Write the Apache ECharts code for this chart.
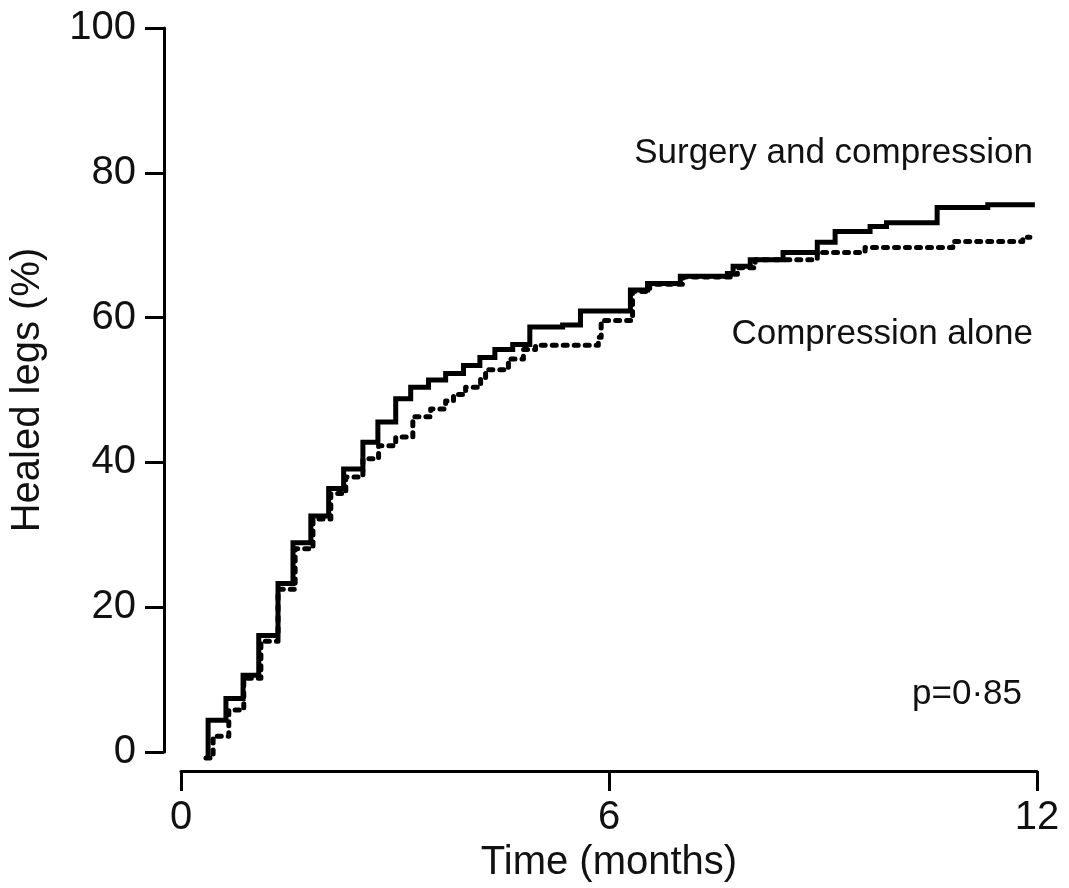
<!DOCTYPE html>
<html>
<head>
<meta charset="utf-8">
<script src="https://cdn.jsdelivr.net/npm/echarts@6/dist/echarts.min.js"></script>
<style>
html,body{margin:0;padding:0;background:#fff;}
#chart{width:1069px;height:888px;}
</style>
</head>
<body>
<div id="chart"></div>
<script>
// Kaplan-Meier style step data: [time (months), healed legs (%)]
var surgeryTimes = [0.38,0.38,0.63,0.87,1.09,1.36,1.57,1.82,2.07,2.28,2.55,2.76,3.01,3.22,3.47,3.71,3.96,4.19,4.40,4.65,4.89,5.35,5.60,6.30,6.54,7.00,7.66,7.74,7.98,8.44,8.92,9.17,9.66,9.89,10.60,11.31,11.97];
var surgeryValues = [-0.8,4.4,7.4,10.6,16.1,23.3,28.9,32.6,36.4,39.1,42.8,45.6,48.8,50.4,51.4,52.3,53.4,54.5,55.6,56.3,58.7,59.0,60.9,63.8,64.7,65.7,66.1,67.1,68.0,69.0,70.4,71.9,72.6,73.1,75.2,75.6,75.6];
var compressionTimes = [0.35,0.45,0.67,0.88,1.12,1.36,1.60,1.85,2.10,2.31,2.55,2.77,3.01,3.25,3.50,3.71,3.82,3.99,4.20,4.27,4.59,4.80,4.97,5.85,5.89,6.33,6.57,7.04,7.70,7.80,8.05,8.92,9.59,10.82,11.80,11.90];
var compressionValues = [-0.8,2.2,5.8,10.2,15.3,22.5,28.1,32.2,35.7,38.0,40.5,42.3,43.5,46.3,47.4,48.5,49.4,50.4,51.5,52.8,54.3,55.6,56.2,57.3,59.6,63.6,64.6,65.6,66.0,66.9,68.0,69.0,69.7,70.5,71.1,71.1];
var xTicks = [0,6,12];
var yTicks = [0,20,40,60,80,100];
var seriesNames = ['Surgery and compression','Compression alone'];
var pText = 'p=0\u00B785';

function zip(a,b){return a.map(function(t,i){return [t,b[i]];});}

var font = 'Liberation Sans, Arial, sans-serif';
var chart = echarts.init(document.getElementById('chart'), null, {renderer:'canvas'});
chart.setOption({
  animation:false,
  backgroundColor:'#fff',
  grid:{left:180,right:32,top:28,bottom:126},
  xAxis:{
    type:'value',min:0,max:12,interval:6,offset:19,
    name:'Time (months)',nameLocation:'middle',nameGap:66,
    nameTextStyle:{fontFamily:font,fontSize:40,color:'#111'},
    axisLine:{show:true,onZero:false,lineStyle:{color:'#000',width:3}},
    axisTick:{show:true,length:20,lineStyle:{color:'#000',width:3}},
    axisLabel:{fontFamily:font,fontSize:40,color:'#111',margin:27,
      formatter:function(v){return xTicks.indexOf(v)>=0?String(v):'';}},
    splitLine:{show:false}
  },
  yAxis:{
    type:'value',min:0,max:100,interval:20,offset:17,
    name:'Healed legs (%)',nameLocation:'middle',nameGap:116,nameRotate:90,
    nameTextStyle:{fontFamily:font,fontSize:40,color:'#111'},
    axisLine:{show:true,onZero:false,lineStyle:{color:'#000',width:3}},
    axisTick:{show:true,length:19,lineStyle:{color:'#000',width:3}},
    axisLabel:{fontFamily:font,fontSize:40,color:'#111',margin:28,
      formatter:function(v){return yTicks.indexOf(v)>=0?String(v):'';}},
    splitLine:{show:false}
  },
  series:[
    {name:seriesNames[0],type:'line',step:'end',clip:false,symbol:'none',
     data:zip(surgeryTimes,surgeryValues),
     lineStyle:{color:'#000',width:5,cap:'butt',join:'miter'}},
    {name:seriesNames[1],type:'line',step:'end',clip:false,symbol:'none',
     data:zip(compressionTimes,compressionValues),
     lineStyle:{color:'#000',width:5,type:[4,7],cap:'round',join:'round'}}
  ],
  graphic:[
    {type:'text',right:36,top:136,style:{text:seriesNames[0],font:'35px '+font,fill:'#111'}},
    {type:'text',right:36,top:317,style:{text:seriesNames[1],font:'35px '+font,fill:'#111'}},
    {type:'text',right:47,top:677,style:{text:pText,font:'35px '+font,fill:'#111'}}
  ]
});
</script>
</body>
</html>
